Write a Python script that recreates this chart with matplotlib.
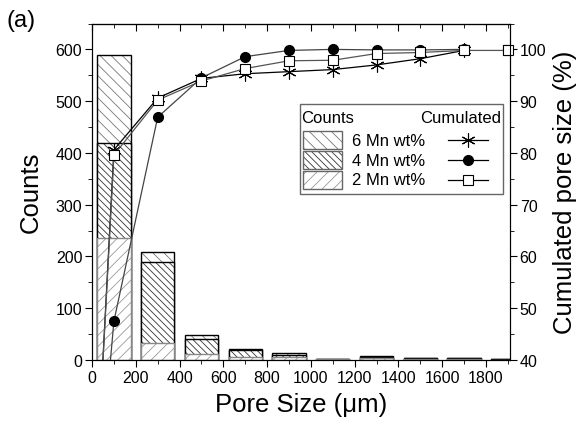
import matplotlib
matplotlib.use("Agg")
import matplotlib.pyplot as plt
from matplotlib.patches import Rectangle
from matplotlib.lines import Line2D
from matplotlib.ticker import MultipleLocator

plt.rcParams['font.family'] = ['Liberation Sans', 'DejaVu Sans']
plt.rcParams['hatch.linewidth'] = 0.6

# histogram of pore sizes (bin centres in um)
bin_centres = [100, 300, 500, 700, 900, 1100, 1300, 1500, 1700, 1900]
counts_6mn = [590, 208, 48, 22, 13, 2, 8, 4, 4, 1]
counts_4mn = [420, 189, 40, 20, 10, 1, 6, 3, 3, 1]
counts_2mn = [235, 33, 12, 6, 5, 1, 3, 2, 2, 0]

# cumulated pore size (%)
cum_x = [0, 100, 300, 500, 700, 900, 1100, 1300, 1500, 1700]
cum_x_2mn = [0, 100, 300, 500, 700, 900, 1100, 1300, 1500, 1700, 1900]
cum_6mn = [0, 80.6, 90.6, 94.4, 95.3, 95.7, 96.1, 97.0, 98.2, 99.8]
cum_4mn = [0, 47.5, 86.9, 94.5, 98.6, 99.8, 100, 99.9, 99.9, 100]
cum_2mn = [0, 79.6, 90.2, 93.9, 96.3, 97.8, 97.9, 99.2, 99.4, 99.8, 99.8]

labels = ['6 Mn wt%', '4 Mn wt%', '2 Mn wt%']
hatches = ['\\\\\\', '\\\\\\\\\\', '///']
hatch_cols = ['#777777', '#333333', '#999999']
edge_cols = ['black', 'black', '#888888']

TICK_FS = 11.5
LAB_FS = 18.5
LEG_FS = 12

fig = plt.figure(figsize=(5.81, 4.27), dpi=100)
ax = fig.add_axes([0.1584, 0.1546, 0.7194, 0.788])

bar_w = 152
for vals, h, hc, ec in zip([counts_6mn, counts_4mn, counts_2mn], hatches, hatch_cols, edge_cols):
    ax.bar(bin_centres, vals, width=bar_w, color='white', edgecolor=hc, hatch=h, linewidth=0)
    ax.bar(bin_centres, vals, width=bar_w, fill=False, edgecolor=ec, linewidth=1.0)

ax.set_xlim(0, 1910)
ax.set_ylim(0, 650)
ax.xaxis.set_major_locator(MultipleLocator(200))
ax.xaxis.set_minor_locator(MultipleLocator(100))
ax.yaxis.set_major_locator(MultipleLocator(100))
ax.yaxis.set_minor_locator(MultipleLocator(50))
ax.tick_params(which='both', direction='out', labelsize=TICK_FS, pad=2)
ax.tick_params(which='major', length=5)
ax.tick_params(which='minor', length=3)
ax.set_xlabel('Pore Size (\u03bcm)', fontsize=LAB_FS, labelpad=5)
ax.set_ylabel('Counts', fontsize=LAB_FS, labelpad=9)

top = ax.secondary_xaxis('top')
top.xaxis.set_major_locator(MultipleLocator(200))
top.xaxis.set_minor_locator(MultipleLocator(100))
top.tick_params(which='both', direction='in', labeltop=False)
top.tick_params(which='major', length=5)
top.tick_params(which='minor', length=3)

ax2 = ax.twinx()
ax2.plot(cum_x, cum_6mn, color='black', lw=0.9, marker=(6, 2, 0), ms=10, mew=0.8)
ax2.plot(cum_x, cum_4mn, color='#444444', lw=0.9, marker='o', ms=7, mfc='black', mec='black')
ax2.plot(cum_x_2mn, cum_2mn, color='#555555', lw=0.9, marker='s', ms=7, mfc='white', mec='black', mew=0.8)
# last square sits on the right spine, keep it whole
ax2.plot(cum_x_2mn[-1:], cum_2mn[-1:], lw=0, marker='s', ms=7, mfc='white', mec='black', mew=0.8,
         clip_on=False)
ax2.set_ylim(40, 105)
ax2.yaxis.set_major_locator(MultipleLocator(10))
ax2.yaxis.set_minor_locator(MultipleLocator(5))
ax2.tick_params(which='both', direction='out', labelsize=TICK_FS, pad=2)
ax2.tick_params(which='major', length=5)
ax2.tick_params(which='minor', length=3)
ax2.set_ylabel('Cumulated pore size (%)', fontsize=LAB_FS, labelpad=5)

# hand-made legend (pixel positions -> axes fraction)
ax_l, ax_r, ax_t, ax_b = 92, 510, 24.5, 361


def fx(px):
    return (px - ax_l) / (ax_r - ax_l)


def fy(py):
    return (ax_b - py) / (ax_b - ax_t)


tr = ax2.transAxes
ax2.add_patch(Rectangle((fx(300), fy(195)), fx(503) - fx(300), fy(105) - fy(195), transform=tr,
                        facecolor='white', edgecolor='#666666', lw=1.0, zorder=5))
ax2.text(fx(301), fy(118), 'Counts', transform=tr, fontsize=LEG_FS, va='center', ha='left', zorder=6)
ax2.text(fx(501), fy(118), 'Cumulated', transform=tr, fontsize=LEG_FS, va='center', ha='right', zorder=6)
row_y = [141, 161, 181]
markers = [dict(marker=(6, 2, 0), ms=10, mfc='black', mec='black', mew=0.8),
           dict(marker='o', ms=7, mfc='black', mec='black'),
           dict(marker='s', ms=7, mfc='white', mec='black', mew=0.8)]
for ry, lab, h, hc, mk in zip(row_y, labels, hatches, hatch_cols, markers):
    ax2.add_patch(Rectangle((fx(303), fy(ry + 9)), fx(342) - fx(303), fy(ry - 9) - fy(ry + 9), transform=tr,
                            facecolor='white', edgecolor=hc, hatch=h, lw=0, zorder=6))
    ax2.add_patch(Rectangle((fx(303), fy(ry + 9)), fx(342) - fx(303), fy(ry - 9) - fy(ry + 9), transform=tr,
                            fill=False, edgecolor='#666666', lw=1.0, zorder=7))
    ax2.text(fx(352), fy(ry), lab, transform=tr, fontsize=LEG_FS, va='center', ha='left', zorder=6)
    ax2.add_line(Line2D([fx(448), fx(488)], [fy(ry), fy(ry)], transform=tr, color='black', lw=0.9, zorder=7))
    ax2.add_line(Line2D([fx(468)], [fy(ry)], transform=tr, lw=0, zorder=8, **mk))

fig.text(0.012, 0.95, '(a)', fontsize=17, va='center', ha='left')

fig.savefig('out.png', dpi=100)
